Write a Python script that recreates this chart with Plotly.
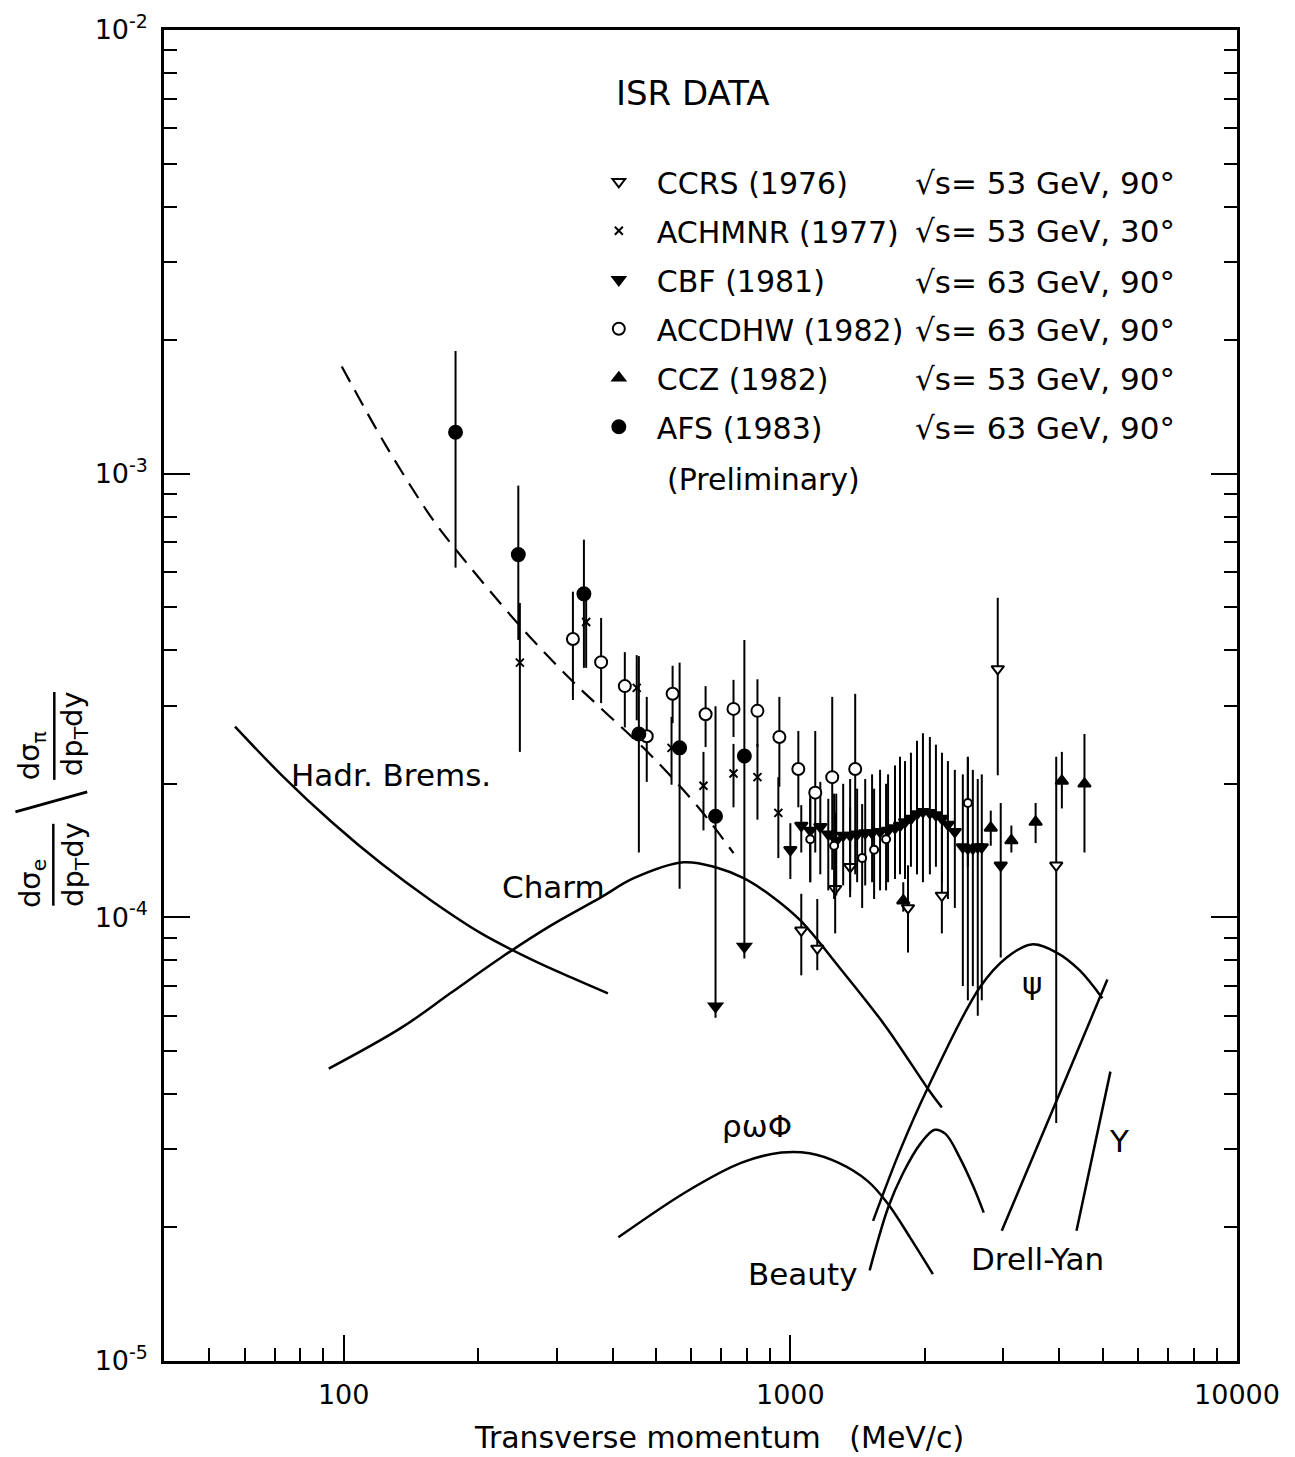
import numpy as np
import plotly.graph_objects as go

FONT = "DejaVu Sans, sans-serif"

# ---------------- data ----------------
# CCRS (1976)
ccrs_x = [1058, 1149, 1260, 1361, 1834, 2184, 2913, 3938]
ccrs_y = [9.35e-5, 8.51e-5, 1.16e-4, 1.30e-4, 1.05e-4, 1.12e-4, 3.63e-4, 1.31e-4]
ccrs_hi = [1.13e-4, 1.10e-4, 1.72e-4, 1.77e-4, 1.31e-4, 1.60e-4, 5.25e-4, 2.30e-4]
ccrs_lo = [7.4e-5, 7.6e-5, 9.2e-5, 1.11e-4, 8.33e-5, 9.2e-5, 2.09e-4, 3.44e-5]

# ACHMNR (1977)
achmnr_x = [248, 349, 453, 542, 639, 746, 844, 940]
achmnr_y = [3.75e-4, 4.63e-4, 3.29e-4, 2.41e-4, 1.98e-4, 2.11e-4, 2.07e-4, 1.72e-4]
achmnr_hi = [5.11e-4, 5.19e-4, 3.90e-4, 2.83e-4, 2.36e-4, 2.46e-4, 2.46e-4, 2.07e-4]
achmnr_lo = [2.36e-4, 3.65e-4, 2.78e-4, 1.99e-4, 1.57e-4, 1.77e-4, 1.66e-4, 1.36e-4]

# CBF (1981)
cbf_x = [1000, 1058, 1108, 1167, 1216, 1267, 1313, 1361, 1411, 1471,
         1524, 1588, 1655, 1715, 1760, 1806, 1862, 1921, 1981, 2053,
         2118, 2185, 2253, 2335, 2433, 2497, 2562, 2628, 2683, 2958]
cbf_y = [1.42e-4, 1.61e-4, 1.57e-4, 1.60e-4, 1.54e-4, 1.49e-4, 1.53e-4, 1.53e-4, 1.54e-4, 1.55e-4,
         1.55e-4, 1.56e-4, 1.57e-4, 1.59e-4, 1.61e-4, 1.64e-4, 1.67e-4, 1.71e-4, 1.73e-4, 1.72e-4,
         1.70e-4, 1.67e-4, 1.62e-4, 1.56e-4, 1.44e-4, 1.43e-4, 1.43e-4, 1.44e-4, 1.44e-4, 1.31e-4]
cbf_hi = [1.63e-4, 1.79e-4, 1.95e-4, 2.02e-4, 1.85e-4, 1.90e-4, 2.0e-4, 2.05e-4, 1.95e-4, 2.05e-4,
          2.1e-4, 2.15e-4, 2.1e-4, 2.2e-4, 2.3e-4, 2.25e-4, 2.35e-4, 2.5e-4, 2.6e-4, 2.55e-4,
          2.45e-4, 2.35e-4, 2.25e-4, 2.15e-4, 2.1e-4, 2.3e-4, 2.15e-4, 2.05e-4, 2.1e-4, 1.81e-4]
cbf_lo = [1.22e-4, 1.40e-4, 1.2e-4, 1.25e-4, 1.15e-4, 1.12e-4, 1.18e-4, 1.15e-4, 1.2e-4, 1.18e-4,
          1.2e-4, 1.15e-4, 1.2e-4, 1.22e-4, 1.25e-4, 1.22e-4, 1.3e-4, 1.25e-4, 1.2e-4, 1.25e-4,
          1.3e-4, 1.2e-4, 1.1e-4, 1.05e-4, 7.0e-5, 6.5e-5, 7.0e-5, 6.0e-5, 6.5e-5, 8.12e-5]

# ACCDHW (1982)
accdhw_x = [326, 377, 426, 477, 545, 646, 746, 844, 945, 1042, 1137, 1241, 1397]
accdhw_y = [4.24e-4, 3.76e-4, 3.32e-4, 2.56e-4, 3.19e-4, 2.87e-4, 2.95e-4, 2.92e-4, 2.55e-4, 2.16e-4, 1.91e-4, 2.07e-4, 2.16e-4]
accdhw_hi = [5.42e-4, 4.73e-4, 3.96e-4, 3.14e-4, 3.69e-4, 3.32e-4, 3.43e-4, 3.44e-4, 3.14e-4, 2.63e-4, 2.63e-4, 3.14e-4, 3.19e-4]
accdhw_lo = [3.09e-4, 3.04e-4, 2.68e-4, 2.02e-4, 2.74e-4, 2.42e-4, 2.55e-4, 2.42e-4, 1.97e-4, 1.77e-4, 1.40e-4, 1.28e-4, 1.25e-4]
# smaller ACCDHW symbols inside the dense cluster
accdhw2_x = [1108, 1253, 1448, 1540, 1638, 2497]
accdhw2_y = [1.50e-4, 1.45e-4, 1.36e-4, 1.42e-4, 1.50e-4, 1.81e-4]
accdhw2_hi = [1.85e-4, 1.9e-4, 1.8e-4, 1.95e-4, 2.0e-4, 2.3e-4]
accdhw2_lo = [1.2e-4, 1.1e-4, 1.05e-4, 1.1e-4, 1.15e-4, 1.3e-4]

# CCZ (1982)
ccz_x = [1790, 2810, 3125, 3541, 4054, 4555]
ccz_y = [1.09e-4, 1.59e-4, 1.49e-4, 1.64e-4, 2.03e-4, 2.00e-4]
ccz_hi = [1.20e-4, 1.74e-4, 1.61e-4, 1.81e-4, 2.36e-4, 2.59e-4]
ccz_lo = [1.03e-4, 1.45e-4, 1.40e-4, 1.47e-4, 1.76e-4, 1.40e-4]

# AFS (1983) preliminary; last two are upper limits (arrows)
afs_x = [178, 246, 345, 458, 565, 680, 789]
afs_y = [1.24e-3, 6.57e-4, 5.36e-4, 2.59e-4, 2.41e-4, 1.69e-4, 2.31e-4]
afs_hi = [1.89e-3, 9.4e-4, 7.1e-4, 3.88e-4, 3.75e-4, 2.99e-4, 4.22e-4]
afs_lo = [6.14e-4, 4.22e-4, 3.65e-4, 1.40e-4, 1.16e-4, 5.94e-5, 8.08e-5]
afs_limit_x = [680, 789]
afs_limit_y = [6.3e-5, 8.6e-5]

# theory curves
hadr_x = [57.1, 72.7, 94.0, 121.6, 157.2, 203.2, 262.9, 322.9, 390.4]
hadr_y = [2.69e-4, 2.09e-4, 1.64e-4, 1.32e-4, 1.09e-4, 9.20e-5, 8.04e-5, 7.32e-5, 6.74e-5]
charm_x = [92.6, 134.7, 174.2, 225.3, 291.3, 376.6, 446, 577, 680, 786, 916, 1053, 1293, 1630, 2032, 2184]
charm_y = [4.56e-5, 5.64e-5, 6.77e-5, 8.12e-5, 9.59e-5, 1.109e-4, 1.225e-4, 1.331e-4, 1.297e-4, 1.225e-4,
           1.109e-4, 9.84e-5, 7.67e-5, 5.70e-5, 4.11e-5, 3.725e-5]
psi_x = [1532, 1760, 2032, 2655, 3051, 3469, 3945, 4440, 4995]
psi_y = [2.07e-5, 2.98e-5, 4.13e-5, 6.95e-5, 8.12e-5, 8.69e-5, 8.33e-5, 7.60e-5, 6.57e-5]
beauty_x = [1505, 1655, 1784, 1956, 2105, 2225, 2396, 2574, 2710]
beauty_y = [1.60e-5, 2.215e-5, 2.64e-5, 3.09e-5, 3.32e-5, 3.25e-5, 2.87e-5, 2.46e-5, 2.16e-5]
rho_x = [412, 590, 778, 955, 1103, 1280, 1486, 1655, 1853, 2085]
rho_y = [1.90e-5, 2.42e-5, 2.80e-5, 2.95e-5, 2.94e-5, 2.80e-5, 2.55e-5, 2.26e-5, 1.90e-5, 1.57e-5]
dy_x = [2974, 3945, 5126]
dy_y = [1.965e-5, 3.86e-5, 7.24e-5]
ups_x = [4372, 5207]
ups_y = [1.965e-5, 4.49e-5]
dashed_x = [99.0, 124.7, 157.2, 176.9, 247.1, 322.9, 376.6, 487, 630, 746]
dashed_y = [1.744e-3, 1.151e-3, 7.96e-4, 6.81e-4, 4.56e-4, 3.43e-4, 2.96e-4, 2.32e-4, 1.744e-4, 1.395e-4]

x_tickvals = [100, 1000, 10000]
x_ticktext = ["100", "1000", "10000"]
y_tickvals = [1e-5, 1e-4, 1e-3, 1e-2]
y_ticktext = ["10<sup>-5</sup>", "10<sup>-4</sup>", "10<sup>-3</sup>", "10<sup>-2</sup>"]

legend_names = ["CCRS (1976)", "ACHMNR (1977)", "CBF (1981)", "ACCDHW (1982)", "CCZ (1982)", "AFS (1983)"]
legend_energy = ["√s= 53 GeV, 90°", "√s= 53 GeV, 30°", "√s= 63 GeV, 90°",
                 "√s= 63 GeV, 90°", "√s= 53 GeV, 90°", "√s= 63 GeV, 90°"]

# ---------------- figure ----------------
fig = go.Figure()


def add_points(name, x, y, hi, lo, symbol, size, fill, group, showlegend=True, lw=2):
    x = np.array(x, dtype=float)
    y = np.array(y, dtype=float)
    hi = np.array(hi, dtype=float)
    lo = np.array(lo, dtype=float)
    fig.add_trace(go.Scatter(
        x=x, y=y, mode="markers", name=name, legendgroup=group, showlegend=showlegend,
        marker=dict(symbol=symbol, size=size, color=fill, line=dict(color="black", width=lw)),
        error_y=dict(type="data", symmetric=False, array=hi - y, arrayminus=y - lo,
                     color="black", thickness=2, width=0),
        hoverinfo="x+y",
    ))


def add_curve(x, y, dash="solid", width=2.5):
    fig.add_trace(go.Scatter(x=x, y=y, mode="lines", showlegend=False,
                             line=dict(color="black", width=width, dash=dash, shape="spline", smoothing=1.0),
                             hoverinfo="skip"))


add_curve(hadr_x, hadr_y)
add_curve(charm_x, charm_y)
add_curve(psi_x, psi_y)
add_curve(beauty_x, beauty_y)
add_curve(rho_x, rho_y)
add_curve(dy_x, dy_y)
add_curve(ups_x, ups_y)
add_curve(dashed_x, dashed_y, dash="17px,10px", width=2.2)

add_points(legend_names[0], ccrs_x, ccrs_y, ccrs_hi, ccrs_lo, "triangle-down", 11, "white", "g1")
add_points(legend_names[1], achmnr_x, achmnr_y, achmnr_hi, achmnr_lo, "x-thin", 8, "black", "g2")
add_points(legend_names[2], cbf_x, cbf_y, cbf_hi, cbf_lo, "triangle-down", 11, "black", "g3")
add_points(legend_names[3], accdhw_x, accdhw_y, accdhw_hi, accdhw_lo, "circle", 12, "white", "g4")
add_points(legend_names[3], accdhw2_x, accdhw2_y, accdhw2_hi, accdhw2_lo, "circle", 8, "white", "g4",
           showlegend=False)
add_points(legend_names[4], ccz_x, ccz_y, ccz_hi, ccz_lo, "triangle-up", 11, "black", "g5")
add_points(legend_names[5], afs_x, afs_y, afs_hi, afs_lo, "circle", 13, "black", "g6")
fig.add_trace(go.Scatter(x=afs_limit_x, y=afs_limit_y, mode="markers", showlegend=False, legendgroup="g6",
                         marker=dict(symbol="triangle-down", size=15, color="black"), hoverinfo="skip"))

# ---------------- annotations ----------------
L, R, T, B = 156, 66, 22, 104
W, H = 1295, 1457
# target plot frame in the picture
FX0, FX1, FY0, FY1 = 162, 1238, 27, 1360


def px(x):
    return (x - FX0) / (FX1 - FX0)


def py(y):
    return 1 - (y - FY0) / (FY1 - FY0)


ann = []


def add_text(t, x, y, size, xanchor="center", angle=0):
    ann.append(dict(text=t, x=px(x), y=py(y), xref="paper", yref="paper", textangle=angle,
                    xanchor=xanchor, yanchor="middle", showarrow=False,
                    font=dict(family=FONT, size=size, color="black")))


add_text("ISR DATA", 613, 90, 34, xanchor="left")
row_y = [180, 228, 279, 327, 377, 426]
for t, ry in zip(legend_energy, row_y):
    add_text(t, 913, ry, 31, xanchor="left")
add_text("(Preliminary)", 763, 477, 30)

curve_labels = [("Hadr. Brems.", 390, 773), ("Charm", 553, 885), ("ρωΦ", 757, 1125),
                ("Beauty", 802, 1273), ("Drell-Yan", 1038, 1258), ("ψ", 1032, 981), ("Y", 1120, 1140)]
for t, cx, cy in curve_labels:
    add_text(t, cx, cy, 31)

# y axis title as stacked fractions (rotated)
for t, cx, cy in [("dσ<sub>e</sub>", 29, 882), ("dp<sub>T</sub>dy", 72, 863),
                  ("dσ<sub>π</sub>", 29, 754), ("dp<sub>T</sub>dy", 72, 732)]:
    add_text(t, cx, cy, 29, angle=-90)

shapes = [
    dict(type="line", xref="paper", yref="paper", x0=px(51), x1=px(51), y0=py(822), y1=py(904),
         line=dict(color="black", width=2.5)),
    dict(type="line", xref="paper", yref="paper", x0=px(52), x1=px(52), y0=py(690), y1=py(778),
         line=dict(color="black", width=2.5)),
    dict(type="line", xref="paper", yref="paper", x0=px(13), x1=px(85), y0=py(810), y1=py(790),
         line=dict(color="black", width=3)),
]

x_minor = [v * m for m in (10, 100, 1000) for v in range(2, 10) if v * m >= 50]
y_minor = [v * m for m in (1e-5, 1e-4, 1e-3) for v in range(2, 10)]

fig.update_layout(
    width=W, height=H,
    margin=dict(l=L, r=R, t=T, b=B, autoexpand=False),
    paper_bgcolor="white", plot_bgcolor="white",
    font=dict(family=FONT, size=28, color="black"),
    showlegend=True,
    legend=dict(x=px(580), y=py(153), xanchor="left", yanchor="top",
                font=dict(family=FONT, size=30, color="black"), itemwidth=66,
                tracegroupgap=7, bgcolor="rgba(0,0,0,0)", borderwidth=0),
    annotations=ann,
    shapes=shapes,
    xaxis=dict(type="log", range=[np.log10(39.6), 4.0], tickmode="array", tickvals=x_tickvals,
               ticktext=x_ticktext, ticks="inside", ticklen=26, tickwidth=2, tickcolor="black",
               showline=True, linewidth=2.5, linecolor="black", mirror=True, automargin=False,
               showgrid=False, zeroline=False, ticklabelstandoff=8, ticklabeloverflow="allow",
               tickfont=dict(family=FONT, size=27),
               minor=dict(tickmode="array", tickvals=x_minor, ticks="inside", ticklen=13,
                          tickwidth=2, tickcolor="black", showgrid=False),
               title=dict(text="\u200b\u00a0\u00a0\u00a0\u00a0Transverse momentum \u00a0\u00a0(MeV/c)",
                          font=dict(family=FONT, size=30), standoff=18)),
    yaxis=dict(type="log", range=[-5, -2], tickmode="array", tickvals=y_tickvals,
               ticktext=y_ticktext, ticks="inside", ticklen=26, tickwidth=2, tickcolor="black",
               showline=True, linewidth=2.5, linecolor="black", mirror="ticks", automargin=False,
               showgrid=False, zeroline=False, ticklabelstandoff=8, ticklabeloverflow="allow",
               tickfont=dict(family=FONT, size=27),
               minor=dict(tickmode="array", tickvals=y_minor, ticks="inside", ticklen=13,
                          tickwidth=2, tickcolor="black", showgrid=False)),
)

fig.write_html("out.html")
